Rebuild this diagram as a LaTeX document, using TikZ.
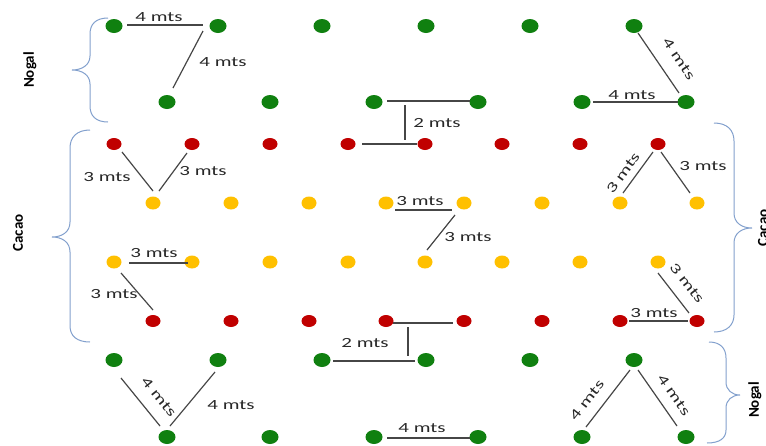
\documentclass[tikz,border=0pt]{standalone}
\usepackage{fontspec}
\setmainfont{Carlito}
\newfontfamily\distfont[FakeStretch=1.5]{Carlito}
\usetikzlibrary{shapes.geometric}
\definecolor{treegreen}{RGB}{16,128,16}
\definecolor{cacaored}{RGB}{192,0,0}
\definecolor{cacaoyellow}{RGB}{255,192,0}
\definecolor{rulegray}{RGB}{70,70,70}
\definecolor{bracecol}{RGB}{130,160,205}
\definecolor{textgray}{RGB}{40,40,40}
\begin{document}
\begin{tikzpicture}[x=1pt,y=-1pt,
  nogal/.style={ellipse, fill=treegreen, minimum width=17pt, minimum height=14pt, inner sep=0pt},
  cacaor/.style={ellipse, fill=cacaored, minimum width=15pt, minimum height=12pt, inner sep=0pt},
  cacaoy/.style={ellipse, fill=cacaoyellow, minimum width=15pt, minimum height=13pt, inner sep=0pt},
  gap/.style={draw=rulegray, line width=1.2pt},
  dist/.style={text=textgray, font=\distfont\fontsize{14}{16}\selectfont, inner sep=0pt},
  zone/.style={text=black, font=\fontsize{15}{18}\selectfont\bfseries, inner sep=0pt, rotate=90},
  brace/.style={draw=bracecol, line width=1pt}]
\useasboundingbox (0,0) rectangle (766,445);

% plant rows
\foreach \x [count=\i] in {114,218,322,426,530,634} \node[nogal] (a\i) at (\x,26) {};
\foreach \x [count=\i] in {167,270,374,478,582,686} \node[nogal] (b\i) at (\x,102) {};
\foreach \x [count=\i] in {114,192,270,348,425,502,580,658} \node[cacaor] (c\i) at (\x,144) {};
\foreach \x [count=\i] in {153,231,309,386,464,542,620,697} \node[cacaoy] (d\i) at (\x,203) {};
\foreach \x [count=\i] in {114,192,270,348,425,502,580,658} \node[cacaoy] (e\i) at (\x,262) {};
\foreach \x [count=\i] in {153,231,309,386,464,542,620,697} \node[cacaor] (f\i) at (\x,321) {};
\foreach \x [count=\i] in {114,218,322,426,530,634} \node[nogal] (g\i) at (\x,360) {};
\foreach \x [count=\i] in {167,270,374,478,582,686} \node[nogal] (h\i) at (\x,437) {};

% distances, top nogal rows
\draw[gap] ([shift={(13,-1)}]a1.center) -- ([shift={(-15,-1)}]a2.center);
\node[dist] (t1) at (159,17) {4 mts};
\draw[gap] ([shift={(-15,5)}]a2.center) -- ([shift={(6,-14)}]b1.center);
\node[dist] (t2) at (223,62) {4 mts};
\draw[gap] ([shift={(13,-1)}]b3.center) -- ([shift={(-8,-1)}]b4.center);
\draw[gap] ([shift={(31,3)}]b3.center) -- ([shift={(57,-4)}]c4.center);
\draw[gap] ([shift={(14,0)}]c4.center) -- ([shift={(-8,0)}]c5.center);
\node[dist] (t3) at (437,123) {2 mts};
\draw[gap] ([shift={(4,7)}]a6.center) -- ([shift={(-7,-9)}]b6.center);
\node[dist, rotate=-56] (t4) at (679,59) {4 mts};
\draw[gap] ([shift={(11,0)}]b5.center) -- ([shift={(-8,0)}]b6.center);
\node[dist] (t5) at (632,95) {4 mts};

% distances, cacao rows
\draw[gap] ([shift={(8,8)}]c1.center) -- ([shift={(0,-12)}]d1.center);
\node[dist] (t6) at (107,177) {3 mts};
\draw[gap] ([shift={(-5,9)}]c2.center) -- ([shift={(6,-12)}]d1.center);
\node[dist] (t7) at (203,171) {3 mts};
\draw[gap] ([shift={(15,1)}]e1.center) -- ([shift={(-4,1)}]e2.center);
\node[dist] (t8) at (154,253) {3 mts};
\draw[gap] ([shift={(7,11)}]e1.center) -- ([shift={(0,-11)}]f1.center);
\node[dist] (t9) at (114,294) {3 mts};
\draw[gap] ([shift={(9,7)}]d4.center) -- ([shift={(-12,7)}]d5.center);
\node[dist] (t10) at (420,201) {3 mts};
\draw[gap] ([shift={(-9,12)}]d5.center) -- ([shift={(2,-12)}]e5.center);
\node[dist] (t11) at (468,237) {3 mts};
\draw[gap] ([shift={(-5,8)}]c8.center) -- ([shift={(3,-10)}]d7.center);
\node[dist, rotate=54] (t12) at (623,173) {3 mts};
\draw[gap] ([shift={(3,8)}]c8.center) -- ([shift={(-7,-10)}]d8.center);
\node[dist] (t13) at (703,166) {3 mts};
\draw[gap] ([shift={(0,11)}]e8.center) -- ([shift={(-8,-8)}]f8.center);
\node[dist, rotate=-52] (t14) at (687,283) {3 mts};
\draw[gap] ([shift={(9,0)}]f7.center) -- ([shift={(-9,0)}]f8.center);
\node[dist] (t15) at (654,313) {3 mts};

% distances, bottom nogal rows
\draw[gap] ([shift={(7,2)}]f4.center) -- ([shift={(-11,2)}]f5.center);
\draw[gap] ([shift={(22,6)}]f4.center) -- ([shift={(-18,-4)}]g4.center);
\draw[gap] ([shift={(11,1)}]g3.center) -- ([shift={(-11,1)}]g4.center);
\node[dist] (t16) at (365,343) {2 mts};
\draw[gap] ([shift={(13,1)}]h3.center) -- ([shift={(-8,1)}]h4.center);
\node[dist] (t17) at (422,428) {4 mts};
\draw[gap] ([shift={(7,18)}]g1.center) -- ([shift={(-7,-11)}]h1.center);
\node[dist, rotate=-51] (t18) at (159,397) {4 mts};
\draw[gap] ([shift={(-3,12)}]g2.center) -- ([shift={(3,-11)}]h1.center);
\node[dist] (t19) at (231,405) {4 mts};
\draw[gap] ([shift={(-4,10)}]g6.center) -- ([shift={(4,-10)}]h5.center);
\node[dist, rotate=52] (t20) at (587,400) {4 mts};
\draw[gap] ([shift={(4,10)}]g6.center) -- ([shift={(-9,-11)}]h6.center);
\node[dist, rotate=-55] (t21) at (674,395) {4 mts};

% zone braces
\draw[brace] (108,18) .. controls (96,18) and (90,24) .. (90,34) -- (90,56)
  .. controls (90,65) and (82,70) .. (72,70) .. controls (82,70) and (90,75) .. (90,84)
  -- (90,106) .. controls (90,116) and (96,122) .. (108,122);
\draw[brace] (90,130) .. controls (77,130) and (70,137) .. (70,148) -- (70,222)
  .. controls (70,232) and (62,237) .. (52,237) .. controls (62,237) and (70,242) .. (70,252)
  -- (70,326) .. controls (70,336) and (77,342) .. (90,342);
\draw[brace] (714,123) .. controls (727,123) and (734,130) .. (734,141) -- (734,213)
  .. controls (734,223) and (742,228) .. (752,228) .. controls (742,228) and (734,233) .. (734,243)
  -- (734,315) .. controls (734,325) and (727,332) .. (714,332);
\draw[brace] (709,342) .. controls (720,342) and (726,348) .. (726,358) -- (726,382)
  .. controls (726,390) and (732,395) .. (740,395) .. controls (732,395) and (726,400) .. (726,408)
  -- (726,430) .. controls (726,438) and (720,443) .. (707,443);

% zone names
\node[zone] (z1) at (30,70) {Nogal};
\node[zone] (z2) at (18,233) {Cacao};
\node[zone] (z3) at (763,228) {Cacao};
\node[zone] (z4) at (755,400) {Nogal};
\end{tikzpicture}
\end{document}
